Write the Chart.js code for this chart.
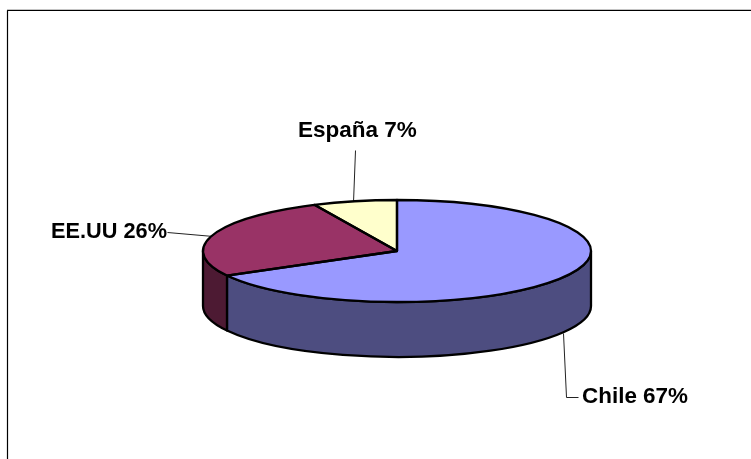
<!DOCTYPE html>
<html><head><meta charset="utf-8">
<style>html,body{margin:0;padding:0;background:#fff}#w{width:751px;height:459px;position:relative}</style>
<script src="https://cdn.jsdelivr.net/npm/chart.js@4"></script>
</head><body><div id="w"><canvas id="c" width="751" height="459"></canvas></div>
<script>
const categories = ['Chile', 'EE.UU', 'España'];
const shares = [67, 26, 7];
const topColors = ['#9999FF', '#993366', '#FFFFCC'];
const sideColors = ['#4D4D80', '#4D1A33', '#808066'];

const tilt = 51 / 194, depth = 55;
// leader lines [x,y] and label anchors are layout, indexed like categories
const leaders = [[[563,333],[566,397],[578,397]], [[213,236],[167,232]], [[353,202],[355,150]]];
const labelPos = [[582,403],[51,238],[298,137]];
const labelWidths = [106, 116, 120];

const pie3d = {
  id: 'pie3d',
  beforeDatasetsDraw(chart) {
    const ctx = chart.ctx, arcs = chart.getDatasetMeta(0).data;
    const { x: cx, y: cy, outerRadius: r } = arcs[0];
    const ry = r * tilt;
    ctx.save();
    ctx.lineJoin = 'round';
    // frame
    ctx.strokeStyle = '#c4c4c4'; ctx.lineWidth = 1;
    ctx.beginPath(); ctx.moveTo(7, 9.5); ctx.lineTo(751, 9.5); ctx.stroke();
    ctx.strokeStyle = '#000'; ctx.lineWidth = 1.2;
    ctx.beginPath(); ctx.moveTo(7.5, 459); ctx.lineTo(7.5, 10.5); ctx.lineTo(751, 10.5); ctx.stroke();
    // leaders
    ctx.lineWidth = 1; ctx.strokeStyle = '#222';
    leaders.forEach(pts => { ctx.beginPath(); pts.forEach((p, i) => i ? ctx.lineTo(p[0]+.5, p[1]+.5) : ctx.moveTo(p[0]+.5, p[1]+.5)); ctx.stroke(); });
    // side wall: only the front half of the rim is visible
    ctx.lineWidth = 2.3; ctx.strokeStyle = '#000';
    arcs.forEach((a, i) => {
      const a0 = Math.max(a.startAngle, 0), a1 = Math.min(a.endAngle, Math.PI);
      if (a1 <= a0) return;
      ctx.beginPath();
      ctx.ellipse(cx, cy, r, ry, 0, a0, a1);
      ctx.ellipse(cx, cy + depth, r, ry, 0, a1, a0, true);
      ctx.closePath();
      ctx.fillStyle = sideColors[i]; ctx.fill(); ctx.stroke();
    });
    ctx.restore();
    // squash the library's own pie arcs into the tilted top face
    ctx.save();
    ctx.translate(cx, cy); ctx.scale(1, tilt); ctx.translate(-cx, -cy);
  },
  afterDatasetsDraw(chart) {
    const ctx = chart.ctx, arcs = chart.getDatasetMeta(0).data;
    ctx.restore();
    const { x: cx, y: cy, outerRadius: r } = arcs[0];
    const ry = r * tilt;
    ctx.save();
    ctx.lineWidth = 2.3; ctx.lineJoin = 'round'; ctx.strokeStyle = '#000';
    arcs.forEach(a => {
      ctx.beginPath();
      ctx.moveTo(cx, cy);
      ctx.ellipse(cx, cy, r, ry, 0, a.startAngle, a.endAngle);
      ctx.closePath(); ctx.stroke();
    });
    ctx.fillStyle = '#000'; ctx.font = 'bold 22.5px "Liberation Sans", Arial, sans-serif';
    ctx.textBaseline = 'alphabetic'; ctx.textAlign = 'left';
    categories.forEach((c, i) => ctx.fillText(c + ' ' + shares[i] + '%', labelPos[i][0], labelPos[i][1], labelWidths[i]));
    ctx.restore();
  }
};

new Chart(document.getElementById('c'), {
  type: 'pie',
  data: { labels: categories, datasets: [{ data: shares, backgroundColor: topColors, borderWidth: 0 }] },
  options: {
    responsive: false, animation: false,
    layout: { padding: { left: 203, right: 160, top: 57, bottom: 14 } },
    plugins: { legend: { display: false }, tooltip: { enabled: false } }
  },
  plugins: [pie3d]
});
</script></body></html>
